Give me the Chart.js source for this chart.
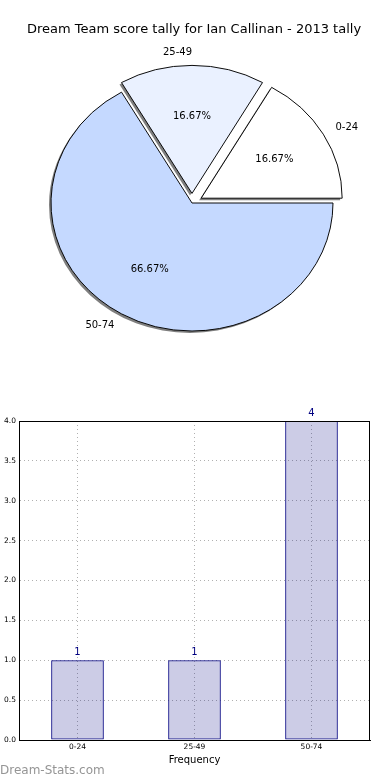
<!DOCTYPE html>
<html>
<head>
<meta charset="utf-8">
<script src="https://cdn.jsdelivr.net/npm/chart.js@4.4.1/dist/chart.umd.min.js"></script>
<style>
html, body { margin: 0; padding: 0; background: #fff; }
#wrap { position: relative; width: 390px; height: 780px; }
#pie { position: absolute; left: 0; top: 0; }
#bar { position: absolute; left: 0; top: 380px; }
</style>
</head>
<body>
<div id="wrap">
  <canvas id="pie" width="390" height="380"></canvas>
  <canvas id="bar" width="390" height="400"></canvas>
</div>
<script>
// data
var categories = ['0-24', '25-49', '50-74'];
var counts = [1, 1, 4];
var yTicks = [0, 0.5, 1, 1.5, 2, 2.5, 3, 3.5, 4];
var titleText = 'Dream Team score tally for Ian Callinan - 2013 tally';

// styles
var sliceColors = ['#ffffff', '#eaf1ff', '#c5d9ff'];
var explode = [0.075, 0.075, 0];
var squash = 128 / 141;   // the pie is a bit flatter than round

Chart.defaults.font.family = 'DejaVu Sans';
Chart.defaults.color = '#000';

// matplotlib goes counter clockwise, chart.js clockwise -> reverse the order
var pieLabels = categories.slice().reverse();
var pieValues = counts.slice().reverse();
var pieColors = sliceColors.slice().reverse();
var pieExplode = explode.slice().reverse();
var total = counts.reduce(function(a, b) { return a + b; }, 0);

var piePlugin = {
    id: 'mplPie',
    afterUpdate: function(chart) {
        var meta = chart.getDatasetMeta(0);
        meta.data.forEach(function(arc, i) {
            var mid = (arc.startAngle + arc.endAngle) / 2;
            arc.x += Math.cos(mid) * pieExplode[i] * arc.outerRadius;
            arc.y += Math.sin(mid) * pieExplode[i] * arc.outerRadius;
        });
    },
    beforeDatasetsDraw: function(chart) {
        var ctx = chart.ctx, a = chart.chartArea;
        var cx = (a.left + a.right) / 2, cy = (a.top + a.bottom) / 2;
        ctx.save();
        ctx.translate(cx, cy);
        ctx.scale(1, squash);
        ctx.translate(-cx, -cy);
        // gray shadow copies under the wedges
        ctx.fillStyle = 'rgba(0,0,0,0.5)';
        chart.getDatasetMeta(0).data.forEach(function(arc) {
            var sx = arc.x - 2, sy = arc.y + 2 / squash;
            ctx.beginPath();
            ctx.moveTo(sx, sy);
            ctx.arc(sx, sy, arc.outerRadius, arc.startAngle, arc.endAngle);
            ctx.closePath();
            ctx.fill();
        });
    },
    afterDatasetsDraw: function(chart) {
        var ctx = chart.ctx, a = chart.chartArea;
        ctx.restore();
        var cy = (a.top + a.bottom) / 2;
        var meta = chart.getDatasetMeta(0);
        ctx.save();
        ctx.fillStyle = '#000';
        ctx.font = '10px "DejaVu Sans"';
        ctx.textBaseline = 'middle';
        meta.data.forEach(function(arc, i) {
            var mid = (arc.startAngle + arc.endAngle) / 2;
            var c = Math.cos(mid), s = Math.sin(mid), r = arc.outerRadius;
            var lx = arc.x + c * r * 1.1;
            var ly = cy + (arc.y - cy + s * r * 1.1) * squash;
            ctx.textAlign = c > 0.01 ? 'left' : 'right';
            ctx.fillText(pieLabels[i], lx, ly);
            var px = arc.x + c * r * 0.6;
            var py = cy + (arc.y - cy + s * r * 0.6) * squash;
            ctx.textAlign = 'center';
            ctx.fillText((pieValues[i] / total * 100).toFixed(2) + '%', px, py);
        });
        ctx.restore();
    },
    afterDraw: function(chart) {
        var ctx = chart.ctx;
        ctx.save();
        ctx.fillStyle = '#000';
        ctx.font = '13px "DejaVu Sans"';
        ctx.textAlign = 'center';
        ctx.textBaseline = 'middle';
        ctx.fillText(titleText, 194, 30);
        ctx.restore();
    }
};

var pieChart = new Chart(document.getElementById('pie'), {
    type: 'pie',
    data: {
        labels: pieLabels,
        datasets: [{
            data: pieValues,
            backgroundColor: pieColors,
            borderColor: '#000',
            borderWidth: 1
        }]
    },
    options: {
        responsive: false,
        animation: false,
        rotation: 90,
        radius: 141,
        layout: { padding: { left: 0, right: 6, top: 26, bottom: 0 } },
        plugins: { legend: { display: false }, tooltip: { enabled: false } }
    },
    plugins: [piePlugin]
});

// bar chart
var barPlugin = {
    id: 'mplBar',
    afterDatasetsDraw: function(chart) {
        var ctx = chart.ctx;
        var meta = chart.getDatasetMeta(0);
        ctx.save();
        ctx.fillStyle = '#000080';
        ctx.font = '10px "DejaVu Sans"';
        ctx.textAlign = 'center';
        ctx.textBaseline = 'bottom';
        meta.data.forEach(function(bar, i) {
            ctx.fillText(String(counts[i]), bar.x, bar.y - 3);
        });
        ctx.restore();
    },
    afterDraw: function(chart) {
        var ctx = chart.ctx, a = chart.chartArea;
        ctx.save();
        ctx.strokeStyle = '#000';
        ctx.lineWidth = 1;
        ctx.strokeRect(Math.round(a.left) + 0.5, Math.round(a.top) + 0.5,
                       Math.round(a.right - a.left) - 1, Math.round(a.bottom - a.top));
        ctx.fillStyle = '#959595';
        ctx.font = '12px "DejaVu Sans"';
        ctx.textAlign = 'left';
        ctx.textBaseline = 'middle';
        ctx.fillText('Dream-Stats.com', 0, 391);
        ctx.restore();
    }
};

var barChart = new Chart(document.getElementById('bar'), {
    type: 'bar',
    data: {
        labels: categories,
        datasets: [{
            data: counts,
            backgroundColor: 'rgba(0,0,128,0.2)',
            borderColor: '#000080',
            borderWidth: 1,
            borderSkipped: false,
            barPercentage: 0.45,
            categoryPercentage: 1
        }]
    },
    options: {
        responsive: false,
        animation: false,
        layout: { padding: { left: 0, right: 20, top: 41, bottom: 0 } },
        scales: {
            x: {
                offset: true,
                grid: { offset: false, color: '#b0b0b0', drawTicks: false },
                border: { display: true, color: '#000', dash: [1, 3] },
                ticks: { font: { size: 7.5 }, color: '#000', padding: 3, maxRotation: 0 },
                title: { display: true, text: 'Frequency', font: { size: 10 }, color: '#000',
                         padding: { top: 0, bottom: 14 } },
                afterFit: function(s) { s.height = 40; }
            },
            y: {
                min: 0,
                max: 4,
                afterBuildTicks: function(s) {
                    s.ticks = yTicks.map(function(v) { return { value: v }; });
                },
                grid: { color: '#b0b0b0', drawTicks: false },
                border: { display: true, color: '#000', dash: [1, 3] },
                ticks: {
                    font: { size: 7.5 }, color: '#000', padding: 3,
                    callback: function(v) { return Number(v).toFixed(1); }
                },
                afterFit: function(s) { s.width = 19; }
            }
        },
        plugins: { legend: { display: false }, tooltip: { enabled: false } }
    },
    plugins: [barPlugin]
});
</script>
</body>
</html>
